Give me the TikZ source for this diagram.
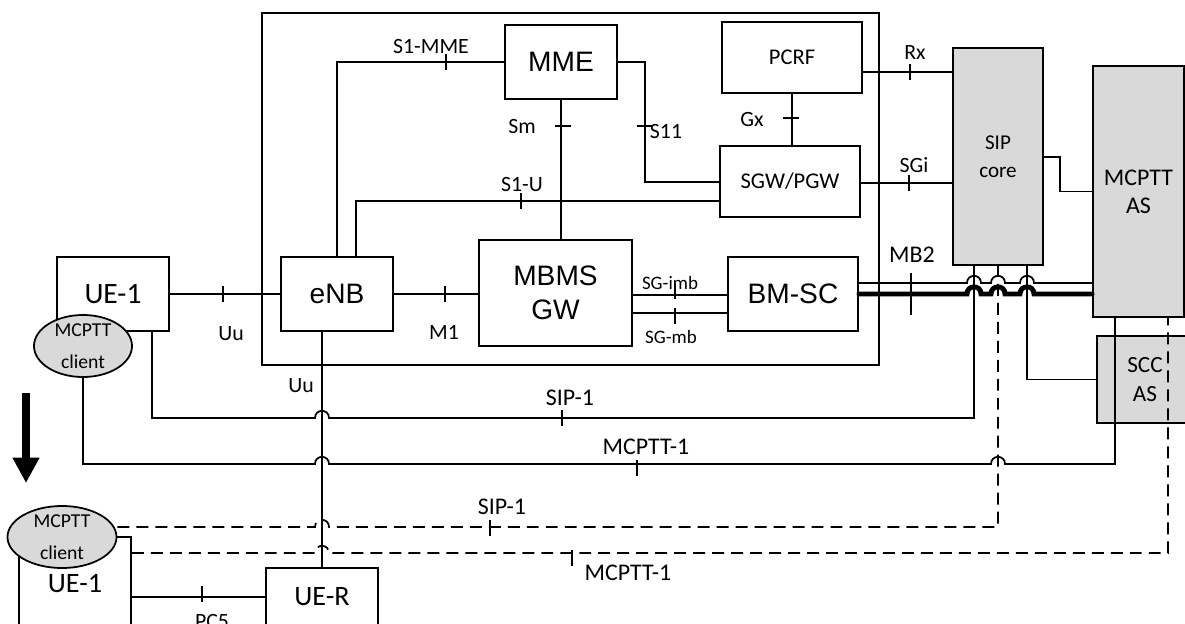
\documentclass[tikz,border=0pt]{standalone}
\usepackage{fontspec}
\setmainfont{Carlito}
\newfontfamily\arialfont{Liberation Sans}
\usetikzlibrary{arrows.meta, shapes.geometric}
\definecolor{shade}{HTML}{D9D9D9}

\newcommand\vtick[2]{\draw (#1,{#2-8}) -- (#1,{#2+8});}
\newcommand\htick[2]{\draw ({#1-8},#2) -- ({#1+8},#2);}

\begin{document}
\begin{tikzpicture}[x=0.025cm, y=-0.025cm, line width=1.25pt,
    box/.style={draw, inner sep=0pt, align=center, font=\fontsize{16}{20}\selectfont},
    epcbox/.style={box, font=\arialfont\fontsize{20}{24}\selectfont},
    uebox/.style={box, font=\fontsize{20}{24}\selectfont},
    srvbox/.style={box, fill=shade},
    client/.style={draw, ellipse, fill=shade, inner xsep=0pt, inner ysep=-8pt,
                   align=center, minimum height=1.55cm, font=\fontsize{14}{23}\selectfont},
    lbl/.style={inner sep=0pt, font=\fontsize{15.5}{18}\selectfont},
    lblbig/.style={inner sep=0pt, font=\fontsize{17}{20}\selectfont},
    lblsmall/.style={inner sep=0pt, font=\fontsize{13.5}{16}\selectfont},
    hop/.style 2 args={insert path={-- ({#1-7},#2) .. controls +(0,-9.5) and +(0,-9.5) .. ({#1+7},#2)}},
    mbline/.style={line width=3.5pt, line cap=round},
    dline/.style={dash pattern=on 8.5pt off 5pt}
  ]
  \useasboundingbox (0,0) rectangle (1185,624);

  \node[draw, minimum width=15.425cm, minimum height=8.8cm] (epc) at (570.5,189) {};

  \node[epcbox, minimum width=2.8cm, minimum height=1.85cm] (mme) at (561,62) {MME};
  \node[box, minimum width=3.5cm, minimum height=1.775cm] (pcrf) at (792,57.5) {PCRF};
  \node[box, minimum width=3.5cm, minimum height=1.775cm] (sgw) at (790,181.5) {SGW/PGW};
  \node[epcbox, minimum width=2.8cm, minimum height=1.85cm] (enb) at (337,294) {eNB};
  \node[epcbox, minimum width=3.825cm, minimum height=2.65cm] (mbms) at (555.5,293) {MBMS\\GW};
  \node[epcbox, minimum width=3.25cm, minimum height=1.85cm] (bmsc) at (793,294) {BM-SC};

  \node[srvbox, font=\fontsize{15}{20}\selectfont, minimum width=2.25cm, minimum height=5.425cm] (sip) at (998,156.5) {SIP\\core};
  \node[srvbox, font=\fontsize{17}{20}\selectfont, minimum width=2.275cm, minimum height=6.275cm] (mcpttas) at (1138.5,191.5) {MCPTT\\AS};
  \node[srvbox, font=\fontsize{16.5}{20.6}\selectfont, minimum width=2.4cm, minimum height=2.175cm] (sccas) at (1145,379.5) {SCC\\AS};

  \node[uebox, font=\fontsize{21}{24}\selectfont, minimum width=2.8cm, minimum height=1.85cm] (ue1) at (113,294) {UE-1};
  \node[uebox, minimum width=2.8cm, minimum height=2.325cm] (ue1b) at (75,583.5) {UE-1};
  \node[uebox, minimum width=2.8cm, minimum height=1.45cm] (uer) at (322,597) {UE-R};

  \node[client, minimum width=2.45cm] (ctop) at (83,346) {MCPTT\\client};
  \node[client, minimum width=2.725cm] (cbot) at (62,537) {MCPTT\\client};

  % EPC interfaces
  \draw (ue1) -- (enb);
  \draw (enb.east) -- (enb.east -| mbms.west);
  \draw (mbms.east |- 0,295) -- (bmsc.west |- 0,295);
  \draw (mbms.east |- 0,313) -- (bmsc.west |- 0,313);
  \draw (enb.north) |- (mme.west);
  \draw (enb.north -| 356,0) |- (sgw.west |- 0,201);
  \draw (mme.south) -- (mme.south |- mbms.north);
  \draw (mme.east) -- (mme.east -| 645,0) |- (sgw.west |- 0,182);
  \draw (pcrf.south) -- (pcrf.south |- sgw.north);
  \draw (pcrf.east |- 0,72) -- (sip.west |- 0,72);
  \draw (sgw.east |- 0,183) -- (sip.west |- 0,183);
  \draw (sip.east |- 0,157) -- (1060,157) |- (mcpttas.west);

  % MB2
  \draw (bmsc.east |- 0,283) [hop={974}{283}] [hop={998}{283}] [hop={1027}{283}] -- (mcpttas.west |- 0,283);
  \draw[mbline] (bmsc.east) [hop={974}{294}] [hop={998}{294}] [hop={1027}{294}] -- (mcpttas.west |- 0,294);

  % application plane
  \draw (ue1.south -| 152,0) -- (152,418) [hop={322}{418}] -- (974,418) -- (sip.south -| 974,0);
  \draw (ctop.south) -- (ctop.south |- 0,464) [hop={322}{464}] [hop={998}{464}] -- (1115,464) -- (mcpttas.south -| 1115,0);
  \draw[dline] (cbot.east |- 0,527) [hop={322}{527}] -- (998,527) -- (sip.south -| 998,0);
  \draw[dline] (ue1b.east |- 0,553) [hop={322}{553}] -- (1168,553) -- (mcpttas.south -| 1168,0);
  \draw (sip.south -| 1027,0) |- (sccas.west);

  \draw (enb.south -| 322,0) -- (uer.north);
  \draw (ue1b.east |- uer.west) -- (uer.west);

  \coordinate (movetop) at (26,393);
  \coordinate (movebot) at (26,483);
  \draw[line width=5pt, -{Triangle[width=18pt,length=18pt]}] (movetop) -- (movebot);

  % ticks
  \vtick{223}{294} \vtick{445}{294} \vtick{675}{291} \vtick{675}{316}
  \vtick{446}{62} \vtick{521}{201} \htick{563}{126} \htick{645}{126}
  \htick{791}{118} \vtick{910}{72} \vtick{909}{183}
  \draw (911,273) -- (911,315);
  \vtick{562}{418} \vtick{637}{468} \vtick{490}{528} \vtick{572}{558} \vtick{202}{594}

  % labels
  \node[lbl] (uu1) at (231,334) {Uu};
  \node[lbl] (m1) at (444,332) {M1};
  \node[lblsmall] (sgimb) at (670,283) {SG-imb};
  \node[lblsmall] (sgmb) at (671,337) {SG-mb};
  \node[lbl] (s1mme) at (431,47) {S1-MME};
  \node[lbl] (sm) at (522,127) {Sm};
  \node[lbl] (s1u) at (522,185) {S1-U};
  \node[lbl] (s11) at (666,132) {S11};
  \node[lbl] (gx) at (752,120) {Gx};
  \node[lbl] (rx) at (915,53) {Rx};
  \node[lbl] (sgi) at (914,165) {SGi};
  \node[lblbig] (mb2) at (912,255) {MB2};
  \node[lbl] (uu2) at (301,386) {Uu};
  \node[lblbig] (sip1a) at (570,398) {SIP-1};
  \node[lblbig] (mcptt1a) at (646,447) {MCPTT-1};
  \node[lblbig] (sip1b) at (502,507) {SIP-1};
  \node[lblbig] (mcptt1b) at (628,573) {MCPTT-1};
  \node[lbl] (pc5) at (212,621) {PC5};
\end{tikzpicture}
\end{document}
